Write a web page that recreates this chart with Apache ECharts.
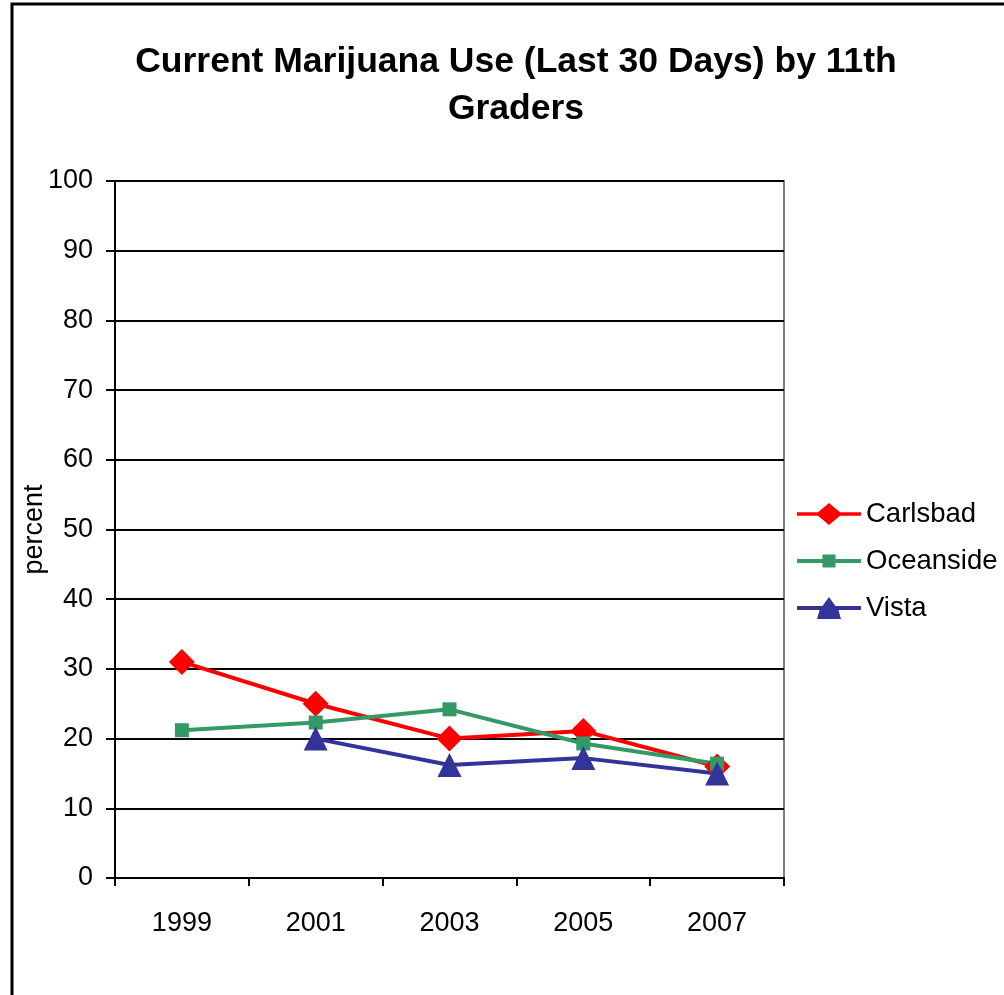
<!DOCTYPE html>
<html>
<head>
<meta charset="utf-8">
<script src="https://cdn.jsdelivr.net/npm/echarts@6/dist/echarts.min.js"></script>
<style>
  html, body { margin: 0; padding: 0; background: #fff; }
  #chart { width: 1004px; height: 995px; }
</style>
</head>
<body>
<div id="chart"></div>
<script>
// Survey years and percentage of 11th graders reporting use in the last 30 days
const years = ['1999', '2001', '2003', '2005', '2007'];
const carlsbad = [31, 25, 20, 21.1, 16];
const oceanside = [21.2, 22.3, 24.2, 19.3, 16.4];
const vista = [null, 20, 16.2, 17.2, 15];

const FONT = '"Liberation Sans", Arial, sans-serif';

// Legend keys: a thick line with the series marker in its middle.
// Each path spans a 64 x 22 box so every key is scaled the same way.
const ICON_DIAMOND = 'path://M0,0 M64,22 M0,9 L21,9 L32,-2 L43,9 L64,9 L64,13 L43,13 L32,24 L21,13 L0,13 Z';
const ICON_SQUARE = 'path://M0,0 M64,22 M0,9 L25.5,9 L25.5,4.5 L38.5,4.5 L38.5,9 L64,9 L64,13 L38.5,13 L38.5,17.5 L25.5,17.5 L25.5,13 L0,13 Z';
const ICON_TRIANGLE = 'path://M0,0 M64,22 M0,9 L25.5,9 L32,0 L38.5,9 L64,9 L64,13 L41.4,13 L44,22 L20,22 L22.6,13 L0,13 Z';

const chart = echarts.init(document.getElementById('chart'), null, { renderer: 'canvas' });

function lineSeries(name, data, color, symbol, size) {
  return {
    name: name,
    type: 'line',
    data: data,
    symbol: symbol,
    symbolSize: size,
    showAllSymbol: true,
    connectNulls: false,
    lineStyle: { color: color, width: 4 },
    itemStyle: { color: color },
    emphasis: { disabled: true },
    z: 3
  };
}

chart.setOption({
  animation: false,
  backgroundColor: '#fff',
  title: {
    text: 'Current Marijuana Use (Last 30 Days) by 11th\nGraders',
    left: 511,
    top: 34,
    textAlign: 'center',
    textStyle: {
      fontFamily: FONT,
      fontWeight: 'bold',
      fontSize: 35.5,
      lineHeight: 47,
      color: '#000'
    }
  },
  legend: {
    orient: 'vertical',
    left: 792,
    top: 494,
    itemWidth: 64,
    itemHeight: 22,
    itemGap: 17,
    symbolKeepAspect: false,
    textStyle: { fontFamily: FONT, fontSize: 27.5, color: '#000', lineHeight: 30 },
    data: [
      { name: 'Carlsbad', icon: ICON_DIAMOND },
      { name: 'Oceanside', icon: ICON_SQUARE },
      { name: 'Vista', icon: ICON_TRIANGLE }
    ]
  },
  grid: {
    left: 115,
    top: 181,
    width: 669,
    height: 697,
    show: true,
    borderColor: '#808080',
    borderWidth: 2,
    backgroundColor: 'transparent'
  },
  xAxis: {
    type: 'category',
    data: years,
    boundaryGap: true,
    axisLine: { lineStyle: { color: '#000', width: 2 } },
    axisTick: { show: true, inside: false, length: 8, lineStyle: { color: '#000', width: 2 } },
    axisLabel: { fontFamily: FONT, fontSize: 27, color: '#000', margin: 32 },
    splitLine: { show: false }
  },
  yAxis: {
    type: 'value',
    min: 0,
    max: 100,
    interval: 10,
    name: 'percent',
    nameLocation: 'middle',
    nameGap: 67,
    nameMoveOverlap: false,
    nameRotate: 90,
    nameTextStyle: { fontFamily: FONT, fontSize: 27, color: '#000' },
    axisLine: { show: true, lineStyle: { color: '#000', width: 2 } },
    axisTick: { show: true, inside: false, length: 9, lineStyle: { color: '#000', width: 2 } },
    axisLabel: { fontFamily: FONT, fontSize: 27, color: '#000', margin: 22 },
    splitLine: { show: true, lineStyle: { color: '#000', width: 2 } }
  },
  graphic: [
    {
      type: 'rect',
      shape: { x: 12, y: 4, width: 1010, height: 1010 },
      style: { fill: 'none', stroke: '#000', lineWidth: 3 },
      silent: true,
      z: 100
    }
  ],
  series: [
    lineSeries('Carlsbad', carlsbad, '#FF0000', 'diamond', 26),
    lineSeries('Oceanside', oceanside, '#339966', 'rect', 14),
    lineSeries('Vista', vista, '#333399', 'triangle', 24)
  ]
});
</script>
</body>
</html>
